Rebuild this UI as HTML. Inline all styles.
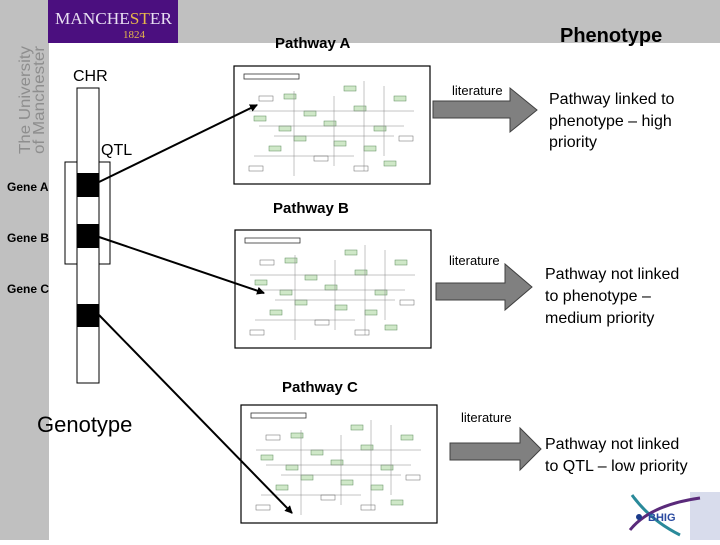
<!DOCTYPE html>
<html><head><style>
body{margin:0;width:720px;height:540px;overflow:hidden;background:#fff;font-family:"Liberation Sans",Arial,sans-serif}
</style></head><body>
<svg width="720" height="540" viewBox="0 0 720 540" xmlns="http://www.w3.org/2000/svg" font-family="Liberation Sans, Arial, sans-serif">
<defs>
<marker id="ah" markerWidth="8" markerHeight="8" refX="7" refY="4" orient="auto" markerUnits="userSpaceOnUse"><path d="M0,0 L8,4 L0,8 z" fill="#000"/></marker>
<g id="pw">
<rect x="0" y="0" width="196" height="118" fill="#fff" stroke="#000" stroke-width="1.2"/>
<rect x="10" y="8" width="55" height="5" fill="none" stroke="#333" stroke-width="0.8"/>
<g fill="#cfe8c8" stroke="#5a8a5a" stroke-width="0.5">
<rect x="20" y="50" width="12" height="5"/><rect x="50" y="28" width="12" height="5"/><rect x="70" y="45" width="12" height="5"/><rect x="90" y="55" width="12" height="5"/><rect x="110" y="20" width="12" height="5"/><rect x="120" y="40" width="12" height="5"/><rect x="140" y="60" width="12" height="5"/><rect x="35" y="80" width="12" height="5"/><rect x="60" y="70" width="12" height="5"/><rect x="130" y="80" width="12" height="5"/><rect x="160" y="30" width="12" height="5"/><rect x="150" y="95" width="12" height="5"/><rect x="45" y="60" width="12" height="5"/><rect x="100" y="75" width="12" height="5"/>
</g>
<g stroke="#888" stroke-width="0.5" fill="none">
<path d="M15,45 H180 M25,60 H170 M60,25 V110 M130,15 V105 M20,90 H120 M100,30 V100 M150,20 V90 M40,70 H160"/>
</g>
<g fill="none" stroke="#666" stroke-width="0.5">
<rect x="15" y="100" width="14" height="5"/><rect x="80" y="90" width="14" height="5"/><rect x="165" y="70" width="14" height="5"/><rect x="120" y="100" width="14" height="5"/><rect x="25" y="30" width="14" height="5"/>
</g>
</g>
</defs>
<rect x="0" y="0" width="49" height="540" fill="#c0c0c0"/>
<rect x="0" y="0" width="720" height="43" fill="#c0c0c0"/>
<rect x="48" y="0" width="130" height="43" fill="#4b0f7f"/>
<text x="55" y="24" font-family="Liberation Serif, serif" font-size="17" fill="#e8dff2" textLength="117" lengthAdjust="spacingAndGlyphs">MANCHE<tspan fill="#e8b84a">ST</tspan>ER</text>
<text x="134" y="38" font-family="Liberation Serif, serif" font-size="11" fill="#e8b84a" text-anchor="middle">1824</text>
<text transform="translate(30,154) rotate(-90)" font-size="16" fill="#8e8e8e" textLength="108" lengthAdjust="spacingAndGlyphs">The University</text>
<text transform="translate(44,154) rotate(-90)" font-size="16" fill="#8e8e8e" textLength="108" lengthAdjust="spacingAndGlyphs">of Manchester</text>
<text x="275" y="48" font-size="15" font-weight="bold">Pathway A</text>
<text x="560" y="42" font-size="20" font-weight="bold">Phenotype</text>
<text x="73" y="81" font-size="16">CHR</text>
<text x="101" y="155" font-size="16">QTL</text>
<text x="7" y="191" font-size="12" font-weight="bold">Gene A</text>
<text x="7" y="242" font-size="12" font-weight="bold">Gene B</text>
<text x="7" y="293" font-size="12" font-weight="bold">Gene C</text>
<text x="37" y="432" font-size="22">Genotype</text>
<rect x="65" y="162" width="45" height="102" fill="none" stroke="#000"/>
<rect x="77" y="88" width="22" height="295" fill="#fff" stroke="#000"/>
<rect x="77" y="173" width="22" height="24" fill="#000"/>
<rect x="77" y="224" width="22" height="24" fill="#000"/>
<rect x="77" y="304" width="22" height="23" fill="#000"/>
<use href="#pw" x="234" y="66"/>
<use href="#pw" x="235" y="230"/>
<use href="#pw" x="241" y="405"/>
<g stroke="#000" stroke-width="2" marker-end="url(#ah)">
<line x1="99" y1="182" x2="257" y2="105"/>
<line x1="99" y1="237" x2="264" y2="293"/>
<line x1="99" y1="315" x2="292" y2="513"/>
</g>
<text x="273" y="213" font-size="15" font-weight="bold">Pathway B</text>
<text x="282" y="392" font-size="15" font-weight="bold">Pathway C</text>
<text x="452" y="95" font-size="13">literature</text>
<text x="449" y="265" font-size="13">literature</text>
<text x="461" y="422" font-size="13">literature</text>
<g fill="#808080" stroke="#404040" stroke-width="1">
<path d="M433,101 H510 V88 L537,110 L510,132 V118 H433 Z"/>
<path d="M436,283 H505 V264 L532,287 L505,310 V300 H436 Z"/>
<path d="M450,443 H520 V428 L541,449 L520,470 V460 H450 Z"/>
</g>
<g font-size="16" fill="#000">
<text x="549" y="104">Pathway linked to</text><text x="549" y="126">phenotype – high</text><text x="549" y="147">priority</text>
<text x="545" y="279">Pathway not linked</text><text x="545" y="301">to phenotype –</text><text x="545" y="323">medium priority</text>
<text x="545" y="449">Pathway not linked</text><text x="545" y="471">to QTL – low priority</text>
</g>
<rect x="690" y="492" width="30" height="48" fill="#d8dcec"/>
<path d="M632,495 Q650,520 680,535" stroke="#2a8a9a" stroke-width="3" fill="none"/>
<path d="M630,530 Q650,505 700,498" stroke="#5a2a7a" stroke-width="3" fill="none"/>
<circle cx="639" cy="517" r="3" fill="#1a3a8a"/>
<text x="648" y="521" font-size="11" font-weight="bold" fill="#2a4aa0">BHIG</text>
</svg>
</body></html>
